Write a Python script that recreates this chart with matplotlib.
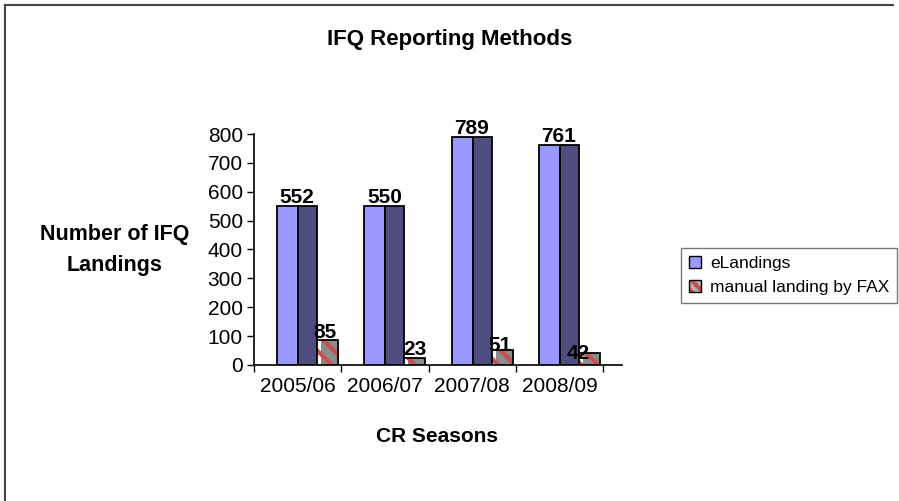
import numpy as np
import matplotlib.pyplot as plt
from matplotlib.patches import Patch
from matplotlib.lines import Line2D

seasons = ["2005/06", "2006/07", "2007/08", "2008/09"]
elandings = [552, 550, 789, 761]
fax = [85, 23, 51, 42]
series_names = ["eLandings", "manual landing by FAX"]

plt.rcParams["font.family"] = ["Liberation Sans", "DejaVu Sans"]
plt.rcParams["hatch.linewidth"] = 3.0

fig = plt.figure(figsize=(8.99, 5.01), dpi=100)
ax = fig.add_axes([0.2825, 0.2715, 0.4095, 0.461])

x = np.arange(len(seasons))
light = "#9999FF"
dark = "#4D4D80"
red = "#C85050"

# eLandings: front face + shaded side
ax.bar(x - 0.235, elandings, width=0.241, align="edge", color=light,
       edgecolor="black", linewidth=1.3, zorder=3)
ax.bar(x + 0.006, elandings, width=0.218, align="edge", color=dark,
       edgecolor="black", linewidth=1.3, zorder=3)

# FAX: thin front + patterned side
ax.bar(x + 0.224, fax, width=0.046, align="edge", color="white",
       edgecolor=red, hatch="\\\\", linewidth=0, zorder=3)
ax.bar(x + 0.270, fax, width=0.194, align="edge", color="#8C8C8C",
       edgecolor=red, hatch="\\\\", linewidth=0, zorder=3)
ax.bar(x + 0.224, fax, width=0.240, align="edge", fill=False,
       edgecolor="black", linewidth=1.3, zorder=4)

for i, v in enumerate(elandings):
    ax.text(x[i] - 0.006, v - 4, str(v), ha="center", va="bottom",
            fontsize=15, fontweight="bold", zorder=5)
fax_dx = [-0.03, 0.0, -0.02, -0.13]
fax_dy = [-4, -4, -18, -34]
for i, v in enumerate(fax):
    ax.text(x[i] + 0.344 + fax_dx[i], v + fax_dy[i], str(v), ha="center",
            va="bottom", fontsize=15, fontweight="bold", zorder=5)

ax.set_xlim(-0.5, 3.718)
ax.set_ylim(0, 800)
ax.set_yticks(range(0, 801, 100))
ax.set_xticks(np.arange(-0.5, 4.0, 1.0))
ax.set_xticklabels([])
ax.set_xticks(x, seasons, minor=True)
ax.tick_params(axis="x", which="minor", length=0, labelsize=15, pad=9)
ax.tick_params(axis="x", which="major", length=5, width=1)
ax.tick_params(axis="y", length=5, width=1, labelsize=15, pad=3)
for s in ["top", "right"]:
    ax.spines[s].set_visible(False)
for s in ["left", "bottom"]:
    ax.spines[s].set_linewidth(1.2)

fig.text(0.5, 1 - 40 / 501, "IFQ Reporting Methods", ha="center", va="center",
         fontsize=16, fontweight="bold")
fig.text(115 / 899, 1 - 250 / 501, "Number of IFQ\nLandings", ha="center",
         va="center", fontsize=15.5, fontweight="bold", linespacing=1.6)
fig.text(437 / 899, 1 - 437 / 501, "CR Seasons", ha="center", va="center",
         fontsize=15, fontweight="bold")

h1 = Patch(facecolor=light, edgecolor="black", linewidth=1)
h2 = (Patch(facecolor="#B0B0B0", edgecolor=red, hatch="\\\\\\", linewidth=0),
      Patch(fill=False, edgecolor="black", linewidth=1))
leg = fig.legend([h1, h2], series_names, loc="upper right",
                 bbox_to_anchor=(897 / 899, 1 - 248 / 501), fontsize=12.5,
                 frameon=True, fancybox=False, edgecolor="#555555",
                 handlelength=0.7, handleheight=0.7, handletextpad=0.5,
                 borderpad=0.45, labelspacing=0.5, borderaxespad=0)
leg.get_frame().set_linewidth(1.0)

# chart area border (left and top only visible)
fig.add_artist(Line2D([5 / 899, 5 / 899], [0, 1 - 5 / 501], color="#444444", lw=1.5))
fig.add_artist(Line2D([5 / 899, 893 / 899], [1 - 5 / 501, 1 - 5 / 501], color="#444444", lw=1.5))

fig.savefig("out.png", dpi=100)
